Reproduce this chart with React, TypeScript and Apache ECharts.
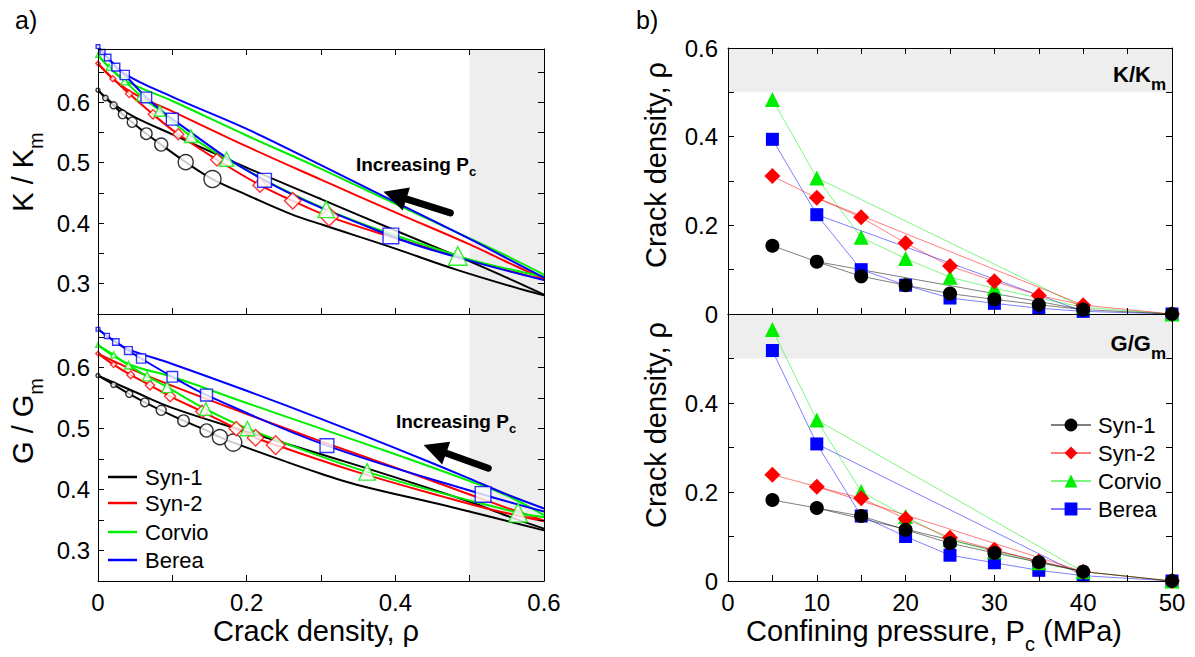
import React, { useEffect, useRef } from "react";
import * as echarts from "echarts";

const FONT = "'Liberation Sans', Arial, Helvetica, sans-serif";

// ---------- Panel b : confining pressure (MPa) ----------
const PRESSURE = [5, 10, 15, 20, 25, 30, 35, 40, 50];
const UNLOAD_PRESSURE = [10, 40];

// crack density inverted from K/Km
const RHO_K_SYN1 = [0.154, 0.118, 0.085, 0.065, 0.046, 0.033, 0.021, 0.01, 0];
const RHO_K_SYN2 = [0.311, 0.262, 0.218, 0.16, 0.108, 0.074, 0.042, 0.02, 0];
const RHO_K_CORVIO = [0.484, 0.307, 0.173, 0.125, 0.083, 0.058, 0.036, 0.015, 0];
const RHO_K_BEREA = [0.394, 0.224, 0.1, 0.065, 0.036, 0.024, 0.013, 0.006, 0];
// crack density inverted from G/Gm
const RHO_G_SYN1 = [0.182, 0.164, 0.146, 0.115, 0.085, 0.063, 0.042, 0.021, 0];
const RHO_G_SYN2 = [0.239, 0.212, 0.186, 0.14, 0.097, 0.07, 0.044, 0.021, 0];
const RHO_G_CORVIO = [0.565, 0.362, 0.201, 0.145, 0.093, 0.066, 0.041, 0.021, 0];
const RHO_G_BEREA = [0.518, 0.308, 0.146, 0.1, 0.058, 0.041, 0.024, 0.012, 0];

// ---------- Panel a : measured normalised moduli at each pressure ----------
const K_SYN1 = [0.473, 0.501, 0.53, 0.548, 0.567, 0.58, 0.595, 0.607, 0.62];
const K_SYN2 = [0.411, 0.437, 0.463, 0.505, 0.547, 0.58, 0.614, 0.639, 0.664];
const K_CORVIO = [0.346, 0.423, 0.506, 0.544, 0.586, 0.61, 0.635, 0.658, 0.678];
const K_BEREA = [0.379, 0.471, 0.572, 0.608, 0.645, 0.658, 0.674, 0.683, 0.692];
const G_SYN1 = [0.477, 0.486, 0.497, 0.513, 0.53, 0.543, 0.557, 0.572, 0.587];
const G_SYN2 = [0.473, 0.485, 0.5, 0.528, 0.553, 0.571, 0.588, 0.605, 0.623];
const G_CORVIO = [0.362, 0.429, 0.5, 0.532, 0.568, 0.586, 0.604, 0.621, 0.637];
const G_BEREA = [0.392, 0.472, 0.555, 0.585, 0.615, 0.628, 0.642, 0.652, 0.663];

// model curve continuation beyond the measured points [rho, modulus]
const K_SYN1_TAIL = [[0.2, 0.447], [0.258, 0.416], [0.303, 0.397], [0.393, 0.361], [0.483, 0.323], [0.572, 0.29], [0.6, 0.281]];
const K_SYN2_TAIL = [[0.393, 0.378], [0.483, 0.345], [0.564, 0.318], [0.6, 0.307]];
const K_CORVIO_TAIL = [[0.55, 0.325], [0.6, 0.312]];
const K_BEREA_TAIL = [[0.483, 0.344], [0.6, 0.306]];
const G_SYN1_TAIL = [[0.25, 0.447], [0.3, 0.426], [0.348, 0.408], [0.483, 0.369], [0.6, 0.333]];
const G_SYN2_TAIL = [[0.348, 0.429], [0.483, 0.382], [0.53, 0.367], [0.6, 0.348]];
const G_CORVIO_TAIL = [[0.6, 0.355]];
const G_BEREA_TAIL = [[0.6, 0.364]];

// second (upper) model curves [rho, modulus]
const K_SYN1_UP = [[0, 0.62], [0.023, 0.595], [0.05, 0.575], [0.1, 0.547], [0.2, 0.492], [0.3, 0.44], [0.4, 0.388], [0.5, 0.337], [0.55, 0.31], [0.6, 0.282]];
const K_SYN2_UP = [[0, 0.664], [0.02, 0.639], [0.05, 0.613], [0.1, 0.585], [0.2, 0.527], [0.3, 0.472], [0.4, 0.418], [0.5, 0.365], [0.55, 0.336], [0.6, 0.308]];
const K_CORVIO_UP = [[0, 0.678], [0.015, 0.658], [0.036, 0.636], [0.1, 0.602], [0.2, 0.545], [0.3, 0.49], [0.4, 0.432], [0.5, 0.375], [0.55, 0.346], [0.6, 0.315]];
const K_BEREA_UP = [[0, 0.692], [0.013, 0.674], [0.036, 0.647], [0.1, 0.609], [0.2, 0.556], [0.3, 0.496], [0.4, 0.435], [0.5, 0.374], [0.55, 0.342], [0.6, 0.31]];
const G_SYN1_UP = [[0, 0.587], [0.05, 0.56], [0.1, 0.534], [0.2, 0.495], [0.3, 0.458], [0.4, 0.42], [0.5, 0.38], [0.55, 0.357], [0.6, 0.336]];
const G_SYN2_UP = [[0, 0.623], [0.044, 0.598], [0.1, 0.57], [0.2, 0.524], [0.3, 0.479], [0.4, 0.436], [0.5, 0.392], [0.55, 0.37], [0.6, 0.349]];
const G_CORVIO_UP = [[0, 0.637], [0.041, 0.606], [0.1, 0.585], [0.2, 0.542], [0.3, 0.5], [0.4, 0.458], [0.5, 0.414], [0.55, 0.39], [0.6, 0.358]];
const G_BEREA_UP = [[0, 0.663], [0.024, 0.642], [0.041, 0.63], [0.1, 0.606], [0.2, 0.562], [0.3, 0.516], [0.4, 0.468], [0.5, 0.418], [0.55, 0.392], [0.6, 0.369]];

// annotation arrows [tail, tip] in panel a data coordinates
const ARROW_K = [[0.474, 0.417], [0.384, 0.452]];
const ARROW_G = [[0.525, 0.435], [0.438, 0.473]];

// tick labels
const X_TICKS_A = [0, 0.2, 0.4, 0.6];
const Y_TICKS_A = [0.3, 0.4, 0.5, 0.6];
const X_TICKS_B = [0, 10, 20, 30, 40, 50];
const Y_TICKS_B_TOP = [0, 0.2, 0.4, 0.6];
const Y_TICKS_B_BOTTOM = [0, 0.2, 0.4];

const LEGEND_NAMES = ["Syn-1", "Syn-2", "Corvio", "Berea"];

// ---------- styling ----------
const MARKER_SIZES = [17, 15, 13, 11.5, 10, 8.5, 7, 5.5, 4];

const ROCKS = [
  { name: "Syn-1", color: "#000000", line: "rgba(0,0,0,0.5)", symbol: "circle", bSize: 14, aScale: 1.0,
    rhoK: RHO_K_SYN1, rhoG: RHO_G_SYN1, k: K_SYN1, g: G_SYN1, kTail: K_SYN1_TAIL, gTail: G_SYN1_TAIL, kUp: K_SYN1_UP, gUp: G_SYN1_UP },
  { name: "Syn-2", color: "#ff0000", line: "rgba(255,0,0,0.5)", symbol: "diamond", bSize: 16, aScale: 1.1,
    rhoK: RHO_K_SYN2, rhoG: RHO_G_SYN2, k: K_SYN2, g: G_SYN2, kTail: K_SYN2_TAIL, gTail: G_SYN2_TAIL, kUp: K_SYN2_UP, gUp: G_SYN2_UP },
  { name: "Corvio", color: "#00ee00", line: "rgba(0,238,0,0.5)", symbol: "triangle", bSize: 15, aScale: 1.1,
    rhoK: RHO_K_CORVIO, rhoG: RHO_G_CORVIO, k: K_CORVIO, g: G_CORVIO, kTail: K_CORVIO_TAIL, gTail: G_CORVIO_TAIL, kUp: K_CORVIO_UP, gUp: G_CORVIO_UP },
  { name: "Berea", color: "#0000ff", line: "rgba(0,0,255,0.5)", symbol: "rect", bSize: 13, aScale: 0.92,
    rhoK: RHO_K_BEREA, rhoG: RHO_G_BEREA, k: K_BEREA, g: G_BEREA, kTail: K_BEREA_TAIL, gTail: G_BEREA_TAIL, kUp: K_BEREA_UP, gUp: G_BEREA_UP },
];

const near = (v: number, list: number[]) => list.some((t) => Math.abs(v - t) < 1e-6);
const fmt = (list: number[]) => (v: number) => (near(v, list) ? String(+v.toFixed(1)) : "");

function axis(gridIndex: number, position: string, min: number, max: number, interval: number,
  labels: number[] | null, ticks: boolean, margin = 10) {
  return {
    type: "value", gridIndex, position, min, max, interval, z: 5,
    axisLine: { show: true, onZero: false, lineStyle: { color: "#000", width: 1 } },
    axisTick: { show: ticks, inside: true, length: 6, lineStyle: { color: "#000", width: 1 } },
    axisLabel: labels
      ? { show: true, formatter: fmt(labels), fontSize: 24, color: "#000", fontFamily: FONT, margin }
      : { show: false },
    splitLine: { show: false },
  };
}

function text(x: number, y: number, str: string, size: number, o: any = {}) {
  const sub = o.sub || Math.round(size * 0.7);
  return {
    type: "text", x, y, rotation: o.rotation || 0, silent: true, z: 50,
    style: {
      text: str, fontSize: size, fontFamily: FONT, fontWeight: o.bold ? "bold" : "normal",
      fill: "#000", align: o.align || "center", verticalAlign: "middle", lineHeight: size,
      rich: {
        s: { fontSize: sub, lineHeight: sub, padding: [o.pad || Math.round(size * 0.9), 0, 0, 0],
          fontFamily: FONT, fontWeight: o.bold ? "bold" : "normal", fill: "#000" },
      },
    },
  };
}

function buildOption() {
  const series: any[] = [];
  // shaded bands
  const band = (ax: number, area: any) => ({
    type: "line", xAxisIndex: ax, yAxisIndex: ax, data: [], silent: true, z: 1, symbol: "none",
    markArea: { silent: true, itemStyle: { color: "#eeeeee" }, data: [area] },
  });
  series.push(band(0, [{ xAxis: 0.5 }, { xAxis: 0.6 }]));
  series.push(band(2, [{ xAxis: 0.5 }, { xAxis: 0.6 }]));
  series.push(band(4, [{ yAxis: 0.5 }, { yAxis: 0.6 }]));
  series.push(band(6, [{ yAxis: 0.5 }, { yAxis: 0.6 }]));

  // panel a curves
  ROCKS.forEach((r) => {
    [[0, r.kUp, r.rhoK, r.k, r.kTail], [2, r.gUp, r.rhoG, r.g, r.gTail]].forEach(([ax, up, rho, mod, tail]: any) => {
      const pts = (rho as number[]).map((x, i) => [x, mod[i]]).sort((a, b) => a[0] - b[0]);
      const common = { type: "line", xAxisIndex: ax, yAxisIndex: ax, symbol: "none", smooth: 0.4,
        silent: true, z: 3, lineStyle: { color: r.color, width: 2 } };
      series.push({ ...common, name: r.name + " model A", data: up });
      series.push({ ...common, name: r.name + " model B", data: pts.concat(tail) });
    });
  });
  // panel a markers
  ROCKS.forEach((r) => {
    [[0, r.rhoK, r.k], [2, r.rhoG, r.g]].forEach(([ax, rho, mod]: any) => {
      series.push({
        type: "scatter", name: r.name + " data", xAxisIndex: ax, yAxisIndex: ax, clip: false, z: 4, silent: true,
        symbol: r.symbol,
        symbolSize: (_v: any, p: any) => MARKER_SIZES[p.dataIndex] * r.aScale,
        itemStyle: { color: "#ffffff", borderColor: r.color, borderWidth: 1.4 },
        data: (rho as number[]).map((x, i) => [x, mod[i]]),
      });
    });
  });

  // panel b
  [...ROCKS].reverse().forEach((r) => {
    [[4, r.rhoK], [6, r.rhoG]].forEach(([ax, rho]: any) => {
      series.push({
        type: "line", name: r.name, xAxisIndex: ax, yAxisIndex: ax, z: 4, clip: false,
        symbol: r.symbol, symbolSize: r.bSize, showSymbol: true,
        lineStyle: { color: r.line, width: 1 }, itemStyle: { color: r.color },
        data: PRESSURE.map((p, i) => [p, rho[i]]),
      });
      series.push({
        type: "line", name: r.name + " unloading", xAxisIndex: ax, yAxisIndex: ax, z: 3, clip: false,
        symbol: "none", lineStyle: { color: r.line, width: 1 }, itemStyle: { color: r.color },
        data: UNLOAD_PRESSURE.map((p) => [p, rho[PRESSURE.indexOf(p)]]),
      });
    });
  });

  return {
    animation: false,
    backgroundColor: "#ffffff",
    textStyle: { fontFamily: FONT },
    grid: [
      { left: 98, top: 49, width: 446, height: 265 },
      { left: 98, top: 314, width: 446, height: 267 },
      { left: 728, top: 48, width: 444, height: 266 },
      { left: 728, top: 314, width: 444, height: 267 },
    ],
    xAxis: [
      axis(0, "bottom", 0, 0.6, 0.1, null, true),
      axis(0, "top", 0, 0.6, 0.1, null, true),
      axis(1, "bottom", 0, 0.6, 0.1, X_TICKS_A, true, 9),
      axis(1, "top", 0, 0.6, 0.1, null, false),
      axis(2, "bottom", 0, 50, 5, null, true),
      axis(2, "top", 0, 50, 5, null, true),
      axis(3, "bottom", 0, 50, 5, X_TICKS_B, true, 9),
      axis(3, "top", 0, 50, 5, null, false),
    ],
    yAxis: [
      axis(0, "left", 0.25, 0.688, 0.05, Y_TICKS_A, true, 8),
      axis(0, "right", 0.25, 0.688, 0.05, null, true),
      axis(1, "left", 0.25, 0.688, 0.05, Y_TICKS_A, true, 8),
      axis(1, "right", 0.25, 0.688, 0.05, null, true),
      axis(2, "left", 0, 0.6, 0.1, Y_TICKS_B_TOP, true, 10),
      axis(2, "right", 0, 0.6, 0.1, null, true),
      axis(3, "left", 0, 0.6, 0.1, Y_TICKS_B_BOTTOM, true, 10),
      axis(3, "right", 0, 0.6, 0.1, null, true),
    ],
    legend: {
      data: LEGEND_NAMES, orient: "vertical", left: 1045, top: 409,
      itemWidth: 40, itemHeight: 16, itemGap: 6, selectedMode: false,
      textStyle: { fontSize: 22, color: "#000", fontFamily: FONT, padding: [0, 0, 0, 2] },
    },
    series,
  };
}

function arrowGraphic(tail: number[], tip: number[]) {
  const dx = tip[0] - tail[0], dy = tip[1] - tail[1];
  const len = Math.hypot(dx, dy);
  const ux = dx / len, uy = dy / len;
  const hl = 24, hw = 12;
  const bx = tip[0] - ux * hl, by = tip[1] - uy * hl;
  return [
    { type: "line", silent: true, z: 40,
      shape: { x1: tail[0], y1: tail[1], x2: bx + ux * 2, y2: by + uy * 2 },
      style: { stroke: "#000", lineWidth: 7, lineCap: "round" } },
    { type: "polygon", silent: true, z: 40,
      shape: { points: [[tip[0], tip[1]], [bx - uy * hw, by + ux * hw], [bx + uy * hw, by - ux * hw]] },
      style: { fill: "#000" } },
  ];
}

export default function App() {
  const ref = useRef<HTMLDivElement>(null);
  useEffect(() => {
    if (!ref.current) return;
    const chart = echarts.init(ref.current, undefined, { renderer: "svg" });
    chart.setOption(buildOption() as any);
    const px = (ax: number, p: number[]) =>
      chart.convertToPixel({ xAxisIndex: ax, yAxisIndex: ax } as any, p) as unknown as number[];

    const legendA = ROCKS.flatMap((r, i) => {
      const y = [477, 503, 532, 560][i];
      return [
        { type: "line", silent: true, z: 45, shape: { x1: 108, y1: y, x2: 137, y2: y },
          style: { stroke: r.color, lineWidth: 2.5 } },
        text(145, y, r.name, 22, { align: "left" }),
      ];
    });

    const graphic: any[] = [
      text(15, 20, "a)", 25, { align: "left" }),
      text(636, 20, "b)", 25, { align: "left" }),
      text(23, 172, "K / K{s|m}", 29, { rotation: Math.PI / 2, sub: 20, pad: 26 }),
      text(23, 421, "G / G{s|m}", 29, { rotation: Math.PI / 2, sub: 20, pad: 26 }),
      text(656, 165, "Crack density, ρ", 29, { rotation: Math.PI / 2 }),
      text(656, 425, "Crack density, ρ", 29, { rotation: Math.PI / 2 }),
      text(316, 631, "Crack density, ρ", 29),
      text(934, 631, "Confining pressure, P{s|c} (MPa)", 29, { sub: 20, pad: 26 }),
      text(416, 164, "Increasing P{s|c}", 19, { bold: true, sub: 13, pad: 15 }),
      text(456, 421, "Increasing P{s|c}", 19, { bold: true, sub: 13, pad: 15 }),
      text(1166, 74, "K/K{s|m}", 22, { bold: true, align: "right", sub: 17, pad: 20 }),
      text(1166, 343, "G/G{s|m}", 22, { bold: true, align: "right", sub: 17, pad: 20 }),
      ...legendA,
      ...arrowGraphic(px(0, ARROW_K[0]), px(0, ARROW_K[1])),
      ...arrowGraphic(px(2, ARROW_G[0]), px(2, ARROW_G[1])),
    ];
    chart.setOption({ graphic });
    return () => chart.dispose();
  }, []);
  return (
    <div ref={ref} style={{ position: "absolute", left: 0, top: 0, width: 1195, height: 657, background: "#fff" }} />
  );
}
